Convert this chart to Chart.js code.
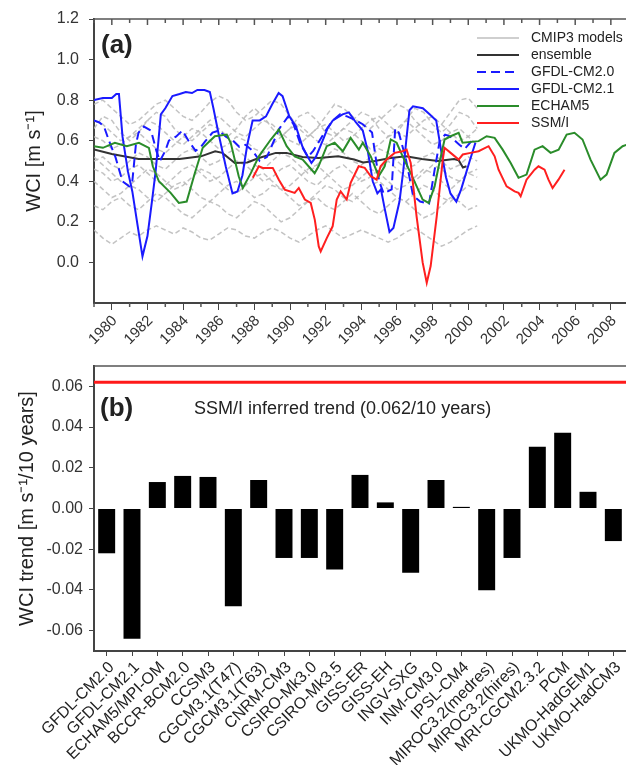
<!DOCTYPE html>
<html>
<head>
<meta charset="utf-8">
<script src="https://cdn.jsdelivr.net/npm/chart.js@4.4.1/dist/chart.umd.min.js"></script>
<style>
  body { margin: 0; background: #fff; }
  canvas { position: absolute; left: 0; }
  #wciChart { top: 0; }
  #trendChart { top: 350px; }
</style>
</head>
<body>
<canvas id="wciChart" width="626" height="350"></canvas>
<canvas id="trendChart" width="626" height="415"></canvas>
<script>
// ---- panel (a): WCI time series [m/s] ----
const cmipYears = [1979, 1979.5, 1980, 1980.5, 1981, 1981.5, 1982, 1982.5, 1983, 1983.5,
  1984, 1984.5, 1985, 1985.5, 1986, 1986.5, 1987, 1987.5, 1988, 1988.5,
  1989, 1989.5, 1990, 1990.5, 1991, 1991.5, 1992, 1992.5, 1993, 1993.5,
  1994, 1994.5, 1995, 1995.5, 1996, 1996.5, 1997, 1997.5, 1998, 1998.5,
  1999, 1999.5, 2000, 2000.5];

// individual CMIP3 runs (grey)
const cmipA = [0.78, 0.80, 0.76, 0.72, 0.68, 0.70, 0.74, 0.78, 0.80, 0.76,
  0.72, 0.70, 0.74, 0.79, 0.82, 0.80, 0.74, 0.70, 0.72, 0.76,
  0.80, 0.78, 0.72, 0.66, 0.62, 0.66, 0.72, 0.78, 0.76, 0.72,
  0.68, 0.66, 0.70, 0.74, 0.78, 0.76, 0.70, 0.66, 0.64, 0.68,
  0.74, 0.80, 0.81, 0.76];
const cmipB = [0.70, 0.68, 0.64, 0.60, 0.62, 0.66, 0.70, 0.68, 0.64, 0.60,
  0.58, 0.62, 0.66, 0.70, 0.72, 0.68, 0.64, 0.62, 0.66, 0.70,
  0.68, 0.64, 0.60, 0.58, 0.62, 0.66, 0.68, 0.64, 0.60, 0.62,
  0.66, 0.70, 0.72, 0.68, 0.64, 0.62, 0.66, 0.70, 0.72, 0.68,
  0.64, 0.60, 0.62, 0.66];
const cmipC = [0.62, 0.60, 0.56, 0.58, 0.62, 0.64, 0.60, 0.56, 0.54, 0.58,
  0.62, 0.66, 0.64, 0.60, 0.56, 0.58, 0.62, 0.60, 0.56, 0.54,
  0.58, 0.62, 0.66, 0.68, 0.64, 0.60, 0.58, 0.62, 0.66, 0.64,
  0.60, 0.56, 0.58, 0.62, 0.66, 0.70, 0.66, 0.62, 0.58, 0.60,
  0.64, 0.66, 0.62, 0.58];
const cmipD = [0.50, 0.52, 0.48, 0.46, 0.50, 0.54, 0.52, 0.48, 0.46, 0.50,
  0.54, 0.56, 0.52, 0.48, 0.50, 0.54, 0.56, 0.52, 0.48, 0.46,
  0.50, 0.54, 0.52, 0.48, 0.44, 0.48, 0.52, 0.56, 0.54, 0.50,
  0.48, 0.52, 0.56, 0.54, 0.50, 0.46, 0.48, 0.52, 0.54, 0.50,
  0.46, 0.48, 0.52, 0.50];
const cmipE = [0.46, 0.44, 0.40, 0.42, 0.46, 0.48, 0.44, 0.40, 0.38, 0.42,
  0.46, 0.48, 0.44, 0.40, 0.42, 0.46, 0.50, 0.48, 0.44, 0.40,
  0.42, 0.46, 0.48, 0.44, 0.40, 0.38, 0.42, 0.46, 0.48, 0.44,
  0.40, 0.42, 0.46, 0.50, 0.46, 0.42, 0.40, 0.44, 0.48, 0.46,
  0.42, 0.40, 0.44, 0.46];
const cmipF = [0.40, 0.36, 0.32, 0.34, 0.38, 0.36, 0.32, 0.30, 0.34, 0.38,
  0.40, 0.36, 0.32, 0.30, 0.34, 0.38, 0.40, 0.36, 0.32, 0.34,
  0.38, 0.36, 0.32, 0.28, 0.30, 0.34, 0.38, 0.36, 0.32, 0.30,
  0.34, 0.38, 0.40, 0.36, 0.32, 0.30, 0.34, 0.38, 0.36, 0.32,
  0.30, 0.34, 0.38, 0.36];
const cmipG = [0.28, 0.26, 0.30, 0.32, 0.28, 0.26, 0.30, 0.34, 0.32, 0.28,
  0.24, 0.22, 0.26, 0.30, 0.28, 0.24, 0.22, 0.26, 0.30, 0.28,
  0.24, 0.20, 0.22, 0.26, 0.30, 0.32, 0.28, 0.26, 0.30, 0.34,
  0.30, 0.26, 0.24, 0.28, 0.32, 0.30, 0.26, 0.22, 0.24, 0.28,
  0.32, 0.30, 0.26, 0.28];
const cmipH = [0.16, 0.12, 0.09, 0.12, 0.15, 0.13, 0.16, 0.18, 0.16, 0.14,
  0.17, 0.15, 0.12, 0.11, 0.14, 0.17, 0.16, 0.13, 0.12, 0.15,
  0.17, 0.15, 0.12, 0.10, 0.13, 0.16, 0.18, 0.15, 0.12, 0.14,
  0.16, 0.14, 0.12, 0.10, 0.12, 0.15, 0.17, 0.14, 0.11, 0.08,
  0.10, 0.13, 0.16, 0.18];
const cmipI = [0.66, 0.72, 0.70, 0.64, 0.60, 0.64, 0.70, 0.74, 0.72, 0.66,
  0.62, 0.60, 0.64, 0.68, 0.66, 0.62, 0.66, 0.72, 0.76, 0.72,
  0.66, 0.62, 0.66, 0.72, 0.74, 0.70, 0.64, 0.62, 0.66, 0.70,
  0.74, 0.72, 0.66, 0.62, 0.64, 0.70, 0.76, 0.74, 0.68, 0.64,
  0.68, 0.74, 0.72, 0.66];
const cmipJ = [0.52, 0.48, 0.44, 0.40, 0.38, 0.42, 0.46, 0.44, 0.40, 0.36,
  0.38, 0.42, 0.46, 0.44, 0.40, 0.36, 0.34, 0.38, 0.42, 0.44,
  0.40, 0.36, 0.38, 0.42, 0.46, 0.48, 0.44, 0.40, 0.36, 0.38,
  0.42, 0.46, 0.44, 0.40, 0.36, 0.38, 0.42, 0.46, 0.44, 0.40,
  0.36, 0.40, 0.44, 0.42];

const ensYears = [1979, 1980, 1981.5, 1983.8, 1985, 1985.8, 1986.2, 1986.9, 1987.6, 1988.25,
  1989.2, 1989.8, 1990.7, 1991.6, 1992.7, 1993.6, 1994.1, 1994.75, 1995.65, 1996.5,
  1997.4, 1998.3, 1999.2, 1999.46, 1999.7, 1999.9];
const ensVals = [0.557, 0.535, 0.51, 0.51, 0.523, 0.548, 0.54, 0.49, 0.493, 0.515,
  0.54, 0.54, 0.52, 0.515, 0.523, 0.507, 0.493, 0.50, 0.515, 0.523,
  0.51, 0.50, 0.51, 0.504, 0.468, 0.474];

const cm20Years = [1979, 1979.3, 1979.56, 1979.84, 1980.2, 1980.6, 1980.97, 1981.15, 1981.35, 1981.5,
  1981.8, 1982.2, 1982.5, 1982.7, 1983, 1983.2, 1983.6, 1983.96, 1984.3, 1984.7,
  1985, 1985.27, 1985.65, 1986, 1986.4, 1986.8, 1987.15, 1987.5, 1987.9, 1988.3,
  1988.7, 1989, 1989.4, 1989.9, 1990.2, 1990.6, 1991, 1991.3, 1991.65, 1992,
  1992.4, 1992.8, 1993.2, 1993.7, 1994.1, 1994.6, 1994.8, 1995, 1995.25, 1995.7,
  1995.9, 1996.1, 1996.5, 1996.9, 1997.3, 1997.8, 1998.1, 1998.4, 1998.7, 1999,
  1999.5, 1999.8, 2000.2];
const cm20Vals = [0.70, 0.69, 0.67, 0.60, 0.52, 0.40, 0.375, 0.40, 0.58, 0.64,
  0.67, 0.65, 0.55, 0.50, 0.55, 0.60, 0.62, 0.65, 0.60, 0.55,
  0.57, 0.60, 0.64, 0.65, 0.62, 0.60, 0.57, 0.58, 0.55, 0.50,
  0.52, 0.58, 0.66, 0.72, 0.68, 0.58, 0.52, 0.55, 0.60, 0.65,
  0.70, 0.73, 0.72, 0.70, 0.68, 0.64, 0.52, 0.40, 0.34, 0.36,
  0.66, 0.64, 0.51, 0.33, 0.30, 0.29, 0.45, 0.60, 0.63, 0.62,
  0.58, 0.56, 0.60];

const cm21Years = [1979, 1979.5, 1980, 1980.25, 1980.4, 1980.6, 1980.9, 1981.15, 1981.45, 1981.72,
  1982, 1982.25, 1982.46, 1982.75, 1983, 1983.4, 1983.8, 1984.15, 1984.5, 1984.8,
  1985.2, 1985.5, 1985.7, 1986, 1986.4, 1986.77, 1987.05, 1987.33, 1987.6, 1987.9,
  1988.3, 1988.65, 1989, 1989.36, 1989.58, 1989.96, 1990.33, 1990.7, 1991, 1991.2,
  1991.45, 1991.83, 1992.1, 1992.4, 1992.95, 1993.3, 1993.7, 1994.08, 1994.36, 1994.64,
  1994.9, 1995.1, 1995.3, 1995.58, 1995.8, 1996.14, 1996.35, 1996.52, 1996.7, 1996.9,
  1997.45, 1997.83, 1998.2, 1998.48, 1998.75, 1999, 1999.33, 1999.6, 2000.08, 2000.4];
const cm21Vals = [0.80, 0.81, 0.81, 0.83, 0.83, 0.62, 0.45, 0.35, 0.18, 0.03,
  0.13, 0.30, 0.45, 0.73, 0.76, 0.82, 0.83, 0.84, 0.835, 0.85,
  0.85, 0.84, 0.76, 0.63, 0.47, 0.34, 0.35, 0.43, 0.58, 0.70,
  0.70, 0.72, 0.78, 0.835, 0.82, 0.72, 0.67, 0.57, 0.52, 0.49,
  0.52, 0.60, 0.66, 0.70, 0.73, 0.74, 0.69, 0.65, 0.55, 0.40,
  0.34, 0.36, 0.27, 0.15, 0.17, 0.30, 0.45, 0.60, 0.75, 0.77,
  0.76, 0.73, 0.70, 0.55, 0.42, 0.34, 0.30, 0.36, 0.50, 0.59];

const echamYears = [1979, 1979.5, 1980.17, 1980.84, 1981.52, 1982.08, 1982.3, 1982.64, 1983.3, 1983.76,
  1984.2, 1984.66, 1985.1, 1985.78, 1986.45, 1986.67, 1987.12, 1987.35, 1987.8, 1988.25,
  1988.92, 1989.37, 1989.81, 1990.26, 1990.71, 1991.38, 1991.6, 1992.06, 1992.5, 1992.96,
  1993.4, 1993.86, 1994.08, 1994.53, 1994.97, 1995.31, 1995.65, 1995.98, 1996.32, 1996.77,
  1997.44, 1997.78, 1998.11, 1998.34, 1998.67, 1999.01, 1999.46, 1999.68, 2000.58, 2001.03,
  2001.48, 2001.93, 2002.38, 2002.82, 2003.27, 2003.72, 2004.17, 2004.62, 2005.07, 2005.52,
  2005.96, 2006.41, 2006.86, 2007.42, 2007.76, 2008.2, 2008.66, 2008.9];
const echamVals = [0.573, 0.565, 0.59, 0.573, 0.59, 0.565, 0.474, 0.40, 0.343, 0.293,
  0.30, 0.441, 0.565, 0.622, 0.63, 0.59, 0.425, 0.367, 0.44, 0.523,
  0.606, 0.655, 0.573, 0.523, 0.507, 0.44, 0.474, 0.573, 0.59, 0.548,
  0.614, 0.556, 0.59, 0.523, 0.425, 0.474, 0.606, 0.59, 0.523, 0.44,
  0.31, 0.293, 0.375, 0.474, 0.606, 0.622, 0.639, 0.59, 0.598, 0.622,
  0.614, 0.556, 0.49, 0.417, 0.433, 0.556, 0.573, 0.54, 0.556, 0.63,
  0.639, 0.606, 0.507, 0.408, 0.433, 0.54, 0.573, 0.58];

const ssmiYears = [1987.91, 1988.25, 1988.47, 1989.03, 1989.37, 1989.7, 1990.26, 1990.49, 1990.83, 1991.16,
  1991.39, 1991.61, 1991.72, 1992.06, 1992.39, 1992.62, 1992.84, 1993.18, 1993.4, 1993.85,
  1994.19, 1994.53, 1994.86, 1995.08, 1995.42, 1995.87, 1996.32, 1996.54, 1996.77, 1997.1,
  1997.44, 1997.67, 1997.89, 1998.23, 1998.57, 1998.67, 1999.01, 1999.46, 1999.69, 2000.13,
  2000.58, 2001.14, 2001.48, 2001.7, 2002.15, 2002.6, 2002.82, 2002.94, 2003.27, 2003.72,
  2003.94, 2004.28, 2004.5, 2004.73, 2005.06, 2005.4];
const ssmiVals = [0.417, 0.474, 0.466, 0.466, 0.408, 0.359, 0.343, 0.367, 0.31, 0.293,
  0.21, 0.079, 0.054, 0.12, 0.178, 0.31, 0.35, 0.31, 0.392, 0.474,
  0.466, 0.425, 0.408, 0.474, 0.507, 0.54, 0.548, 0.556, 0.49, 0.227,
  0.0, -0.10, -0.018, 0.227, 0.507, 0.565, 0.54, 0.507, 0.532, 0.54,
  0.548, 0.573, 0.523, 0.457, 0.375, 0.35, 0.343, 0.326, 0.408, 0.457,
  0.474, 0.457, 0.408, 0.367, 0.408, 0.457];

const wciTicks = [0, 0.2, 0.4, 0.6, 0.8, 1.0, 1.2];

// ---- panel (b): model WCI trends [m/s per 10 years] ----
const modelNames = ['GFDL-CM2.0', 'GFDL-CM2.1', 'ECHAM5/MPI-OM', 'BCCR-BCM2.0', 'CCSM3',
  'CGCM3.1(T47)', 'CGCM3.1(T63)', 'CNRM-CM3', 'CSIRO-Mk3.0', 'CSIRO-Mk3.5', 'GISS-ER',
  'GISS-EH', 'INGV-SXG', 'INM-CM3.0', 'IPSL-CM4', 'MIROC3.2(medres)', 'MIROC3.2(hires)',
  'MRI-CGCM2.3.2', 'PCM', 'UKMO-HadGEM1', 'UKMO-HadCM3'];
const modelTrends = [-0.022, -0.064, 0.013, 0.016, 0.0155, -0.048, 0.014, -0.0243, -0.0243,
  -0.030, 0.0165, 0.003, -0.0316, 0.014, 0.0008, -0.0402, -0.0243, 0.0303, 0.0372, 0.0082, -0.016];
const ssmiTrend = 0.062;
const trendTicks = [-0.06, -0.04, -0.02, 0, 0.02, 0.04, 0.06];

Chart.defaults.font.family = "'Liberation Sans', Arial, sans-serif";
Chart.defaults.color = '#333';

const FONT_TICK = { size: 16 };
const AXIS_COLOR = '#444';

const toPoints = (years, vals) => years.map((t, i) => ({ x: t, y: vals[i] }));

const greyRuns = [cmipA, cmipB, cmipC, cmipD, cmipE, cmipF, cmipG, cmipH, cmipI, cmipJ];

const wciDatasets = [
  { label: 'SSM/I', data: toPoints(ssmiYears, ssmiVals), borderColor: '#ff1f1f', borderWidth: 2 },
  { label: 'ECHAM5', data: toPoints(echamYears, echamVals), borderColor: '#2a8c2a', borderWidth: 2 },
  { label: 'GFDL-CM2.1', data: toPoints(cm21Years, cm21Vals), borderColor: '#1a1aff', borderWidth: 2 },
  { label: 'GFDL-CM2.0', data: toPoints(cm20Years, cm20Vals), borderColor: '#1a1aff', borderWidth: 2, borderDash: [9, 5] },
  { label: 'ensemble', data: toPoints(ensYears, ensVals), borderColor: '#333333', borderWidth: 2 },
];
greyRuns.forEach((run) => {
  wciDatasets.push({
    label: 'CMIP3 models', data: toPoints(cmipYears, run),
    borderColor: 'rgba(185,185,185,0.85)', borderWidth: 1.5, borderDash: [5, 3],
  });
});

// legend entries, top to bottom
const keyOrder = ['CMIP3 models', 'ensemble', 'GFDL-CM2.0', 'GFDL-CM2.1', 'ECHAM5', 'SSM/I'];

const wciLegend = {
  id: 'wciLegend',
  afterDraw(chart) {
    const { ctx } = chart;
    ctx.save();
    ctx.font = "14px 'Liberation Sans', Arial, sans-serif";
    ctx.textBaseline = 'middle';
    keyOrder.forEach((name, i) => {
      const ds = chart.data.datasets.find((d) => d.label === name);
      const y = 38 + i * 17;
      ctx.strokeStyle = name === 'CMIP3 models' ? '#cfcfcf' : ds.borderColor;
      ctx.lineWidth = 2;
      ctx.setLineDash(ds.borderDash && name !== 'CMIP3 models' ? ds.borderDash : []);
      ctx.beginPath();
      ctx.moveTo(477, y);
      ctx.lineTo(519, y);
      ctx.stroke();
      ctx.setLineDash([]);
      ctx.fillStyle = '#222';
      ctx.fillText(name, 531, y);
    });
    ctx.font = "bold 26px 'Liberation Sans', Arial, sans-serif";
    ctx.fillText('(a)', 101, 46);
    ctx.restore();
  },
};

const frameTicks = {
  id: 'frameTicks',
  afterDraw(chart) {
    const { ctx, chartArea: a, scales } = chart;
    ctx.save();
    ctx.strokeStyle = '#555';
    ctx.lineWidth = 1.5;
    ctx.beginPath();
    ctx.moveTo(a.left, a.top);
    ctx.lineTo(a.right, a.top);
    ctx.stroke();
    if (chart.config.type === 'line') {
      scales.x.ticks.forEach((tk) => {
        const px = scales.x.getPixelForValue(tk.value);
        const major = tk.value % 2 === 0;
        ctx.beginPath();
        ctx.moveTo(px, a.top);
        ctx.lineTo(px, a.top + (major ? 6 : 4));
        ctx.stroke();
        if (!major) {
          ctx.beginPath();
          ctx.moveTo(px, a.bottom);
          ctx.lineTo(px, a.bottom + 4);
          ctx.stroke();
        }
      });
    }
    ctx.restore();
  },
};

new Chart(document.getElementById('wciChart').getContext('2d'), {
  type: 'line',
  data: { datasets: wciDatasets },
  options: {
    responsive: false,
    animation: false,
    layout: { padding: { top: 19, right: 0, left: 0, bottom: 0 } },
    elements: { point: { radius: 0 }, line: { tension: 0, fill: false } },
    plugins: { legend: { display: false }, tooltip: { enabled: false } },
    scales: {
      x: {
        type: 'linear',
        min: 1979,
        max: 2008.85,
        bounds: 'data',
        border: { color: AXIS_COLOR, width: 2 },
        grid: {
          drawOnChartArea: false,
          tickLength: 7,
          color: (c) => (c.tick && c.tick.value % 2 === 0 ? AXIS_COLOR : 'rgba(0,0,0,0)'),
        },
        ticks: {
          stepSize: 1,
          includeBounds: false,
          autoSkip: false,
          maxRotation: 45,
          minRotation: 45,
          padding: 2,
          labelOffset: 3,
          font: { size: 15 },
          callback: (v) => (v % 2 === 0 ? String(v) : ''),
        },
        afterFit: (s) => { s.height = 47; s.paddingLeft = 0; s.paddingRight = 0; },
      },
      y: {
        min: -0.2,
        max: 1.2,
        bounds: 'data',
        border: { color: AXIS_COLOR, width: 2 },
        grid: { drawOnChartArea: false, tickLength: 5, color: AXIS_COLOR },
        ticks: {
          padding: 10,
          font: FONT_TICK,
          callback: (v) => v.toFixed(1),
        },
        afterBuildTicks: (s) => { s.ticks = wciTicks.map((v) => ({ value: v })); },
        title: {
          display: true,
          text: 'WCI [m s⁻¹]',
          font: { size: 20 },
          color: '#222',
          padding: { top: 22, bottom: 0 },
        },
        afterFit: (s) => { s.width = 94; s.paddingTop = 0; s.paddingBottom = 0; },
      },
    },
  },
  plugins: [frameTicks, wciLegend],
});

const trendOverlay = {
  id: 'trendOverlay',
  afterDraw(chart) {
    const { ctx, chartArea: a, scales } = chart;
    const y = scales.y.getPixelForValue(ssmiTrend);
    ctx.save();
    ctx.strokeStyle = '#ff1a1a';
    ctx.lineWidth = 3;
    ctx.beginPath();
    ctx.moveTo(a.left, y);
    ctx.lineTo(a.right, y);
    ctx.stroke();
    ctx.fillStyle = '#222';
    ctx.textBaseline = 'middle';
    ctx.font = "bold 26px 'Liberation Sans', Arial, sans-serif";
    ctx.fillText('(b)', 100, 59);
    ctx.font = "18px 'Liberation Sans', Arial, sans-serif";
    ctx.fillText('SSM/I inferred trend (' + ssmiTrend.toFixed(3) + '/10 years)', 194, 59);
    ctx.restore();
  },
};

new Chart(document.getElementById('trendChart').getContext('2d'), {
  type: 'bar',
  data: {
    labels: modelNames,
    datasets: [{
      label: 'WCI trend',
      data: modelTrends,
      backgroundColor: '#000',
      borderWidth: 0,
      categoryPercentage: 1,
      barPercentage: 0.67,
    }],
  },
  options: {
    responsive: false,
    animation: false,
    layout: { padding: { top: 16, right: 0, left: 0, bottom: 0 } },
    plugins: { legend: { display: false }, tooltip: { enabled: false } },
    scales: {
      x: {
        border: { color: AXIS_COLOR, width: 2 },
        grid: { drawOnChartArea: false, offset: false, tickLength: 5, color: AXIS_COLOR },
        ticks: {
          autoSkip: false,
          maxRotation: 45,
          minRotation: 45,
          padding: 2,
          labelOffset: 5,
          font: { size: 16 },
          color: '#222',
        },
        afterFit: (s) => { s.height = 114; s.paddingLeft = 0; s.paddingRight = 0; },
      },
      y: {
        min: -0.07,
        max: 0.07,
        bounds: 'data',
        border: { color: AXIS_COLOR, width: 2 },
        grid: { drawOnChartArea: false, tickLength: 5, color: AXIS_COLOR },
        ticks: {
          padding: 6,
          font: FONT_TICK,
          callback: (v) => v.toFixed(2),
        },
        afterBuildTicks: (s) => { s.ticks = trendTicks.map((v) => ({ value: v })); },
        title: {
          display: true,
          text: 'WCI trend [m s⁻¹/10 years]',
          font: { size: 20 },
          color: '#222',
          padding: { top: 15, bottom: 0 },
        },
        afterFit: (s) => { s.width = 94; s.paddingTop = 0; s.paddingBottom = 0; },
      },
    },
  },
  plugins: [frameTicks, trendOverlay],
});
</script>
</body>
</html>
